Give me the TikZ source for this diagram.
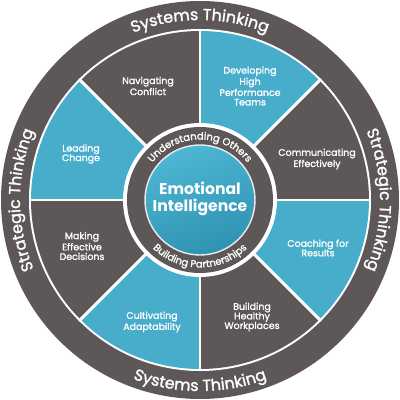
\documentclass[tikz,border=0pt]{standalone}
\usepackage{fontspec}
\setmainfont{Poppins}
\newfontfamily\pmed{Poppins}[RawFeature={embolden=1.5}]
\usetikzlibrary{decorations.text}
\definecolor{dk}{HTML}{5D5758}
\definecolor{bl}{HTML}{47ADCA}
\definecolor{cl}{HTML}{4DB7D3}
\definecolor{cd}{HTML}{2F92B2}
\begin{document}
\begin{tikzpicture}[x=0.025cm, y=0.025cm,
  segtext/.style={text=white, align=center, font=\pmed\fontsize{6.7}{6.8}\selectfont},
  septline/.style={draw=white, line width=2.1pt},
  outertext/.style={decorate, decoration={text along path, text align=center, text color=white,
     text={|\pmed\fontsize{11.3}{12}\selectfont|#1}}},
  innertext/.style={decorate, decoration={text along path, text align=center, text color=white,
     text={|\pmed\fontsize{7.1}{7.3}\selectfont|#1}}}]
\useasboundingbox (-200,-200) rectangle (200,200);
% outer ring
\fill[dk] (0,0) circle (199);
\fill[white] (0,0) circle (171);
% segments
\foreach \a/\c in {90/dk,45/bl,0/dk,-45/bl,-90/dk,-135/bl,180/dk,135/bl}
  \fill[\c] (0,0) -- (\a:169) arc[start angle=\a, end angle=\a+45, radius=169] -- cycle;
\foreach \a in {0,45,...,315}
  \draw[septline] (0,0) -- (\a:171);
% inner disk
\fill[white] (0,0) circle (77);
\fill[dk] (0,0) circle (73);
\shade[top color=cl, bottom color=cd, shading angle=20] (0,0) circle (55);
\draw[white!85!gray, line width=1pt] (0,0) circle (55);
% outer texts
\path[outertext={Systems Thinking}] (180:180) arc[start angle=180, end angle=0, radius=180];
\path[outertext={Systems Thinking}] (225:191) arc[start angle=225, end angle=315, radius=191];
\path[outertext={Strategic Thinking}] (225:180) arc[start angle=225, end angle=135, radius=180];
\path[outertext={Strategic Thinking}] (45:180) arc[start angle=45, end angle=-45, radius=180];
% inner ring texts
\path[innertext={Understanding Others}] (180:60.5) arc[start angle=180, end angle=0, radius=60.5];
\path[innertext={Building Partnerships}] (180:67.5) arc[start angle=180, end angle=360, radius=67.5];
% centre
\node[text=white, align=center, font=\fontsize{11.1}{11.9}\selectfont\bfseries] (ei) at (0,1) {Emotional\\Intelligence};
% segment labels
\node[segtext] (nav) at (-52,114) {Navigating\\Conflict};
\node[segtext] (dev) at (50,114) {Developing\\High\\Performance\\Teams};
\node[segtext] (com) at (117,41) {Communicating\\Effectively};
\node[segtext] (coa) at (118,-48) {Coaching for\\Results};
\node[segtext] (bui) at (52,-117) {Building\\Healthy\\Workplaces};
\node[segtext] (cul) at (-48,-122) {Cultivating\\Adaptability};
\node[segtext] (mak) at (-118,-46) {Making\\Effective\\Decisions};
\node[segtext] (lea) at (-119,46) {Leading\\Change};
\end{tikzpicture}
\end{document}
